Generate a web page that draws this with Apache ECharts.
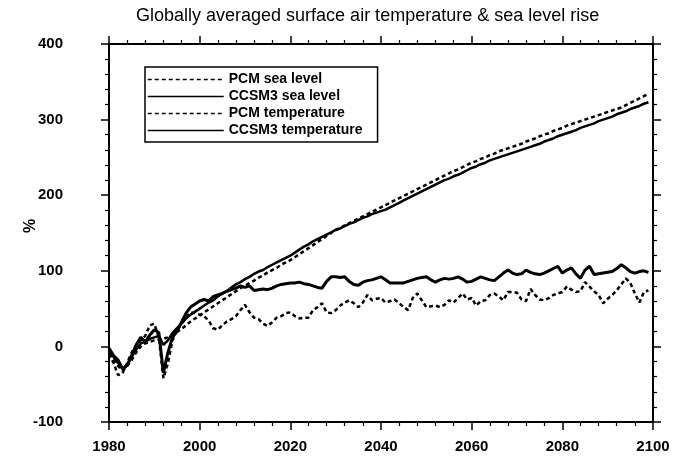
<!DOCTYPE html>
<html>
<head>
<meta charset="utf-8">
<script src="https://cdn.jsdelivr.net/npm/echarts@6/dist/echarts.min.js"></script>
<style>
  html, body { margin: 0; padding: 0; background: #fff; }
  #chart { width: 678px; height: 465px; }
</style>
</head>
<body>
<div id="chart"></div>
<script>
// Annual values, 1980-2099, in percent
const startYear = 1980;
const endYear = 2099;

const pcmSeaLevel = [
  -10, -18, -26, -32, -26, -18, -8, 0, 4, 6,
  8, 9, 10, 12, 15, 19, 23, 28, 33, 37,
  41, 45, 49, 53, 57, 61, 65, 69, 73, 77,
  80, 84, 87, 91, 94, 98, 101, 104, 108, 111,
  114, 118, 122, 126, 130, 134, 138, 142, 146, 150,
  154, 157, 160, 163, 166, 169, 172, 175, 178, 181,
  184, 187, 190, 193, 196, 199, 202, 205, 208, 211,
  214, 217, 220, 223, 226, 229, 232, 234, 237, 240,
  243, 245, 248, 250, 253, 255, 258, 260, 262, 264,
  266, 268, 271, 273, 275, 278, 280, 282, 285, 287,
  289, 292, 294, 296, 298, 300, 302, 304, 306, 308,
  310, 312, 314, 316, 319, 322, 325, 328, 331, 334
];

const ccsmSeaLevel = [
  -6, -14, -22, -30, -24, -14, -4, 4, 6, 10,
  12, 14, 2, 8, 18, 24, 30, 37, 42, 46,
  50, 54, 58, 61, 66, 70, 73, 78, 82, 85,
  89, 92, 96, 99, 101, 105, 108, 111, 114, 117,
  120, 124, 128, 132, 135, 139, 142, 145, 148, 151,
  154, 156, 159, 162, 164, 167, 170, 172, 175, 177,
  179, 181, 184, 187, 190, 193, 196, 199, 202, 205,
  208, 211, 214, 217, 220, 222, 225, 227, 230, 233,
  236, 238, 241, 243, 246, 248, 250, 252, 254, 256,
  258, 260, 262, 264, 266, 268, 271, 273, 275, 278,
  280, 282, 284, 286, 289, 291, 293, 295, 298, 300,
  302, 304, 307, 309, 311, 314, 316, 318, 321, 323
];

const pcmTemperature = [
  -10, -22, -38, -35, -22, -8, 2, 8, 14, 28,
  30, 12, -42, -22, 8, 22, 30, 38, 45, 44,
  42, 40, 34, 24, 22, 28, 33, 36, 40, 48,
  55, 45, 38, 36, 30, 27, 32, 38, 40, 44,
  45, 40, 37, 38, 38, 48, 52, 57, 45, 44,
  48, 54, 58, 61, 57, 52, 58, 68, 61, 63,
  64, 58, 60, 62, 57, 52, 48, 64, 70, 61,
  52, 53, 54, 52, 55, 61, 58, 64, 70, 62,
  64, 54, 60, 61, 68, 70, 66, 61, 72, 72,
  71, 62, 60, 76, 68, 62, 61, 64, 68, 70,
  72, 79, 75, 72, 73, 85, 79, 73, 68, 57,
  63, 68, 74, 82, 90, 84, 70, 58, 72, 74
];

const ccsmTemperature = [
  -2, -12, -18, -30, -25, -12, 2, 12, 6, 15,
  22, 18, -35, -8, 12, 20, 32, 44, 52, 56,
  60, 62, 60, 66, 68, 70, 73, 75, 77, 80,
  78, 80, 74, 75, 76, 75, 77, 80, 82, 83,
  84, 84, 85, 83, 82, 80, 78, 77, 86, 92,
  92, 91, 92, 86, 82, 81, 85, 87, 88, 90,
  92, 88, 84, 84, 84, 84, 86, 88, 90, 91,
  92, 88, 85, 88, 90, 89, 90, 92, 89, 85,
  86, 89, 92, 90, 88, 87, 92, 97, 101, 97,
  95, 96, 101, 98, 96, 95, 97, 100, 103, 106,
  97, 101, 104, 96, 90, 101, 106, 95, 96, 97,
  98, 99, 103, 108, 104, 99, 97, 99, 100, 98
];

const seriesNames = ['PCM sea level', 'CCSM3 sea level', 'PCM temperature', 'CCSM3 temperature'];
const chartTitle = 'Globally averaged surface air temperature & sea level rise';
const yAxisName = '%';

const years = [];
for (let y = startYear; y <= endYear; y++) years.push(y);
const pairs = vals => years.map((y, i) => [y, vals[i]]);

const FONT = '"Liberation Sans", Arial, Helvetica, sans-serif';
const INK = '#000';

const axisCommon = {
  axisLine: { show: true, onZero: false, lineStyle: { color: INK, width: 2 } },
  axisTick: { show: true, inside: false, length: 8, lineStyle: { color: INK, width: 1.5 } },
  minorTick: { show: true, splitNumber: 5, length: 4, lineStyle: { color: INK, width: 1.2 } },
  splitLine: { show: false },
  minorSplitLine: { show: false }
};

const xRange = { type: 'value', min: 1980, max: 2100, interval: 20 };
const yRange = { type: 'value', min: -100, max: 400, interval: 100 };
const plain = v => String(v);

const chart = echarts.init(document.getElementById('chart'), null, { renderer: 'canvas' });

chart.setOption({
  backgroundColor: '#fff',
  animation: false,
  color: [INK, INK, INK, INK],
  title: {
    text: chartTitle,
    left: 131,
    top: 2,
    textStyle: { fontFamily: FONT, fontSize: 18, fontWeight: 'normal', color: INK }
  },
  grid: { left: 109, right: 25, top: 44, bottom: 43 },
  legend: {
    data: seriesNames,
    orient: 'vertical',
    left: 145,
    top: 67,
    padding: [5, 15, 4, 2],
    itemWidth: 76,
    itemHeight: 14,
    itemGap: 2,
    borderColor: INK,
    borderWidth: 1.5,
    borderRadius: 0,
    backgroundColor: '#fff',
    itemStyle: { opacity: 0 },
    lineStyle: { width: 1.5 },
    textStyle: { fontFamily: FONT, fontSize: 14, fontWeight: 'bold', color: INK, lineHeight: 15 }
  },
  xAxis: [
    Object.assign({}, xRange, axisCommon, {
      position: 'bottom',
      axisLabel: { show: true, margin: 17, formatter: plain, color: INK, fontFamily: FONT, fontSize: 15, fontWeight: 'bold' }
    }),
    Object.assign({}, xRange, axisCommon, {
      position: 'top',
      axisLabel: { show: false }
    })
  ],
  yAxis: [
    Object.assign({}, yRange, axisCommon, {
      position: 'left',
      name: yAxisName,
      nameLocation: 'middle',
      nameGap: 70,
      nameRotate: 90,
      nameMoveOverlap: false,
      nameTextStyle: { color: INK, fontFamily: FONT, fontSize: 16, fontWeight: 'bold', padding: [0, 0, 0, 14] },
      axisLabel: { show: true, margin: 46, formatter: plain, color: INK, fontFamily: FONT, fontSize: 15, fontWeight: 'bold' }
    }),
    Object.assign({}, yRange, axisCommon, {
      position: 'right',
      axisLabel: { show: false }
    })
  ],
  series: [
    {
      name: seriesNames[0], type: 'line', data: pairs(pcmSeaLevel),
      symbol: 'none', z: 3,
      lineStyle: { color: INK, width: 2.5, type: [4, 3] }
    },
    {
      name: seriesNames[1], type: 'line', data: pairs(ccsmSeaLevel),
      symbol: 'none', z: 3,
      lineStyle: { color: INK, width: 2.5, type: 'solid' }
    },
    {
      name: seriesNames[2], type: 'line', data: pairs(pcmTemperature),
      symbol: 'none', z: 3,
      lineStyle: { color: INK, width: 2.5, type: [4, 3] }
    },
    {
      name: seriesNames[3], type: 'line', data: pairs(ccsmTemperature),
      symbol: 'none', z: 3,
      lineStyle: { color: INK, width: 3, type: 'solid' }
    }
  ]
});
</script>
</body>
</html>
